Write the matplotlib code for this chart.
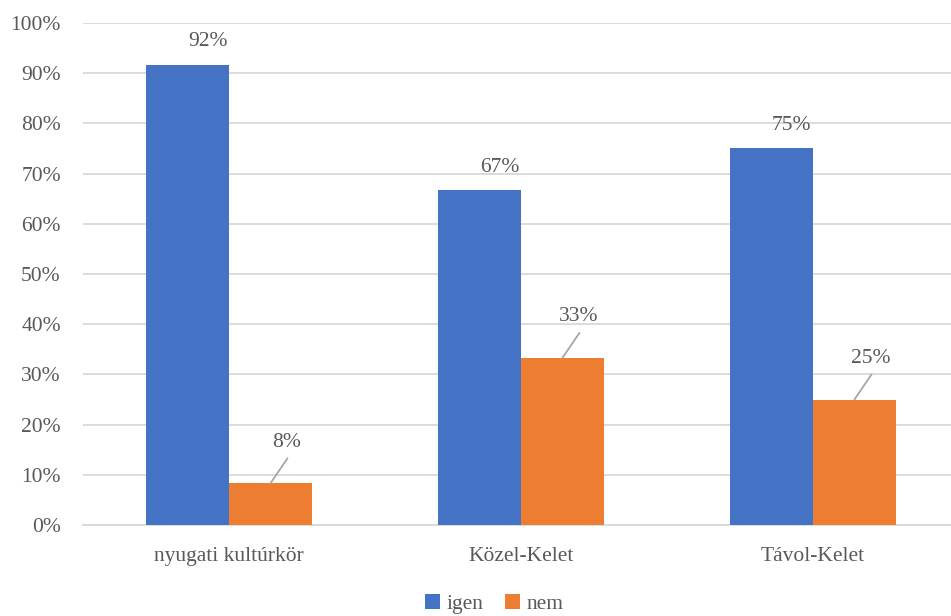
import numpy as np
import matplotlib.pyplot as plt
from matplotlib.ticker import PercentFormatter

categories = ['nyugati kultúrkör', 'Közel-Kelet', 'Távol-Kelet']
igen = [91.7, 66.7, 75.0]
nem = [8.3, 33.3, 25.0]
igen_labels = ['92%', '67%', '75%']
nem_labels = ['8%', '33%', '25%']

plt.rcParams['font.family'] = ['Liberation Serif', 'DejaVu Serif']
text_color = '#595959'
grid_color = '#d9d9d9'
fs = 15.5

fig = plt.figure(figsize=(9.51, 6.16), dpi=100)
ax = fig.add_axes([83 / 951, 91 / 616, 876 / 951, 502 / 616])

x = np.arange(len(categories))
w = 0.284
ax.bar(x - w / 2, igen, w, color='#4472C4', label='igen', zorder=3)
ax.bar(x + w / 2, nem, w, color='#ED7D31', label='nem', zorder=3)

# adatcímkék
for xi, v, lab in zip(x - w / 2, igen, igen_labels):
    ax.annotate(lab, (xi, v), xytext=(20, 23), textcoords='offset pixels',
                ha='center', va='center', fontsize=fs, color=text_color)

for xi, v, lab in zip(x + w / 2, nem, nem_labels):
    ax.annotate(lab, (xi, v), xytext=(16, 41), textcoords='offset pixels',
                ha='center', va='center', fontsize=fs, color=text_color)
    # vezetővonal
    ax.annotate('', (xi, v), xytext=(17, 25), textcoords='offset pixels',
                arrowprops=dict(arrowstyle='-', color='#a6a6a6', lw=1.3,
                                shrinkA=0, shrinkB=0))

ax.set_xlim(-0.5, 2.5)
ax.set_ylim(0, 100)
ax.set_yticks(np.arange(0, 101, 10))
ax.yaxis.set_major_formatter(PercentFormatter(decimals=0))
ax.set_xticks(x)
ax.set_xticklabels(categories)
ax.tick_params(axis='both', length=0, labelsize=fs, colors=text_color)
ax.tick_params(axis='x', pad=16)
ax.tick_params(axis='y', pad=16)

ax.grid(axis='y', color=grid_color, lw=1.3, zorder=0)
for s in ['top', 'right', 'left']:
    ax.spines[s].set_visible(False)
ax.spines['bottom'].set_color(grid_color)
ax.spines['bottom'].set_linewidth(1.3)

fig.legend(loc='center', bbox_to_anchor=(494 / 951, 12 / 616), ncol=2,
           frameon=False, fontsize=fs, labelcolor=text_color,
           handlelength=0.7, handleheight=0.7, handletextpad=0.3,
           columnspacing=1.0)

fig.savefig('out.png', dpi=100)
